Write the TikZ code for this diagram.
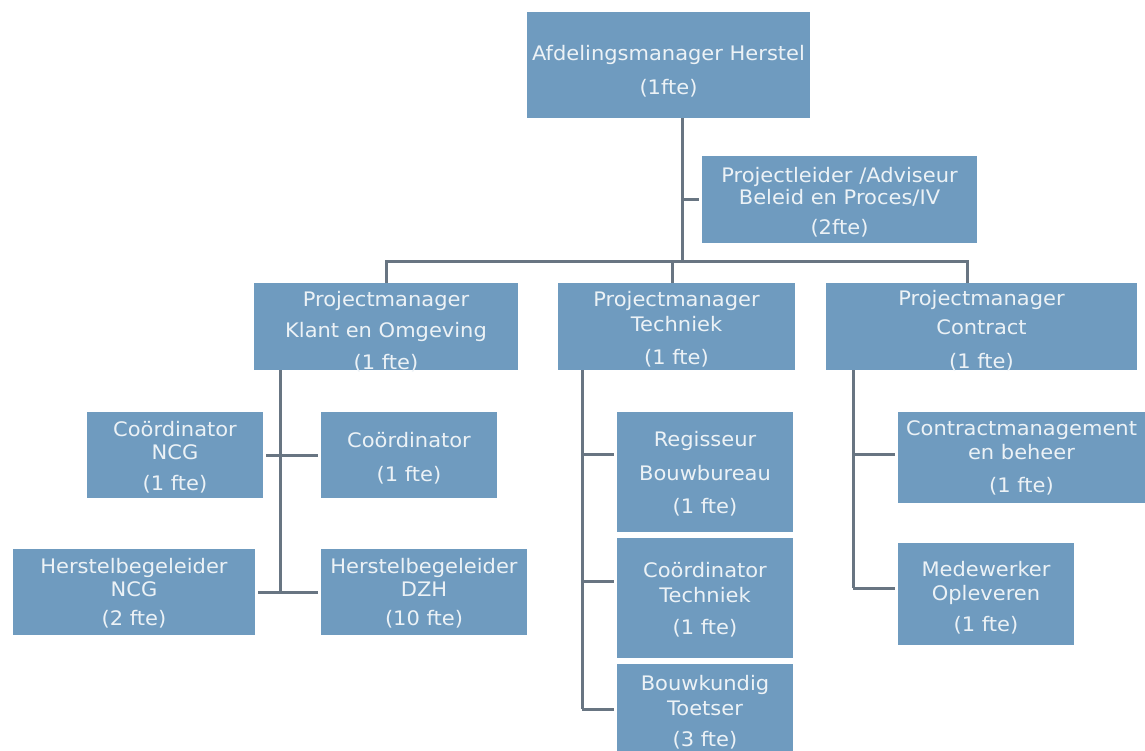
\documentclass[tikz,border=0pt]{standalone}
\usepackage{fontspec}
\setmainfont{DejaVu Sans}[FakeStretch=1.05]
\definecolor{boxfill}{RGB}{111,155,191}
\definecolor{boxtext}{RGB}{236,242,246}
\definecolor{wirecol}{RGB}{104,117,130}
\begin{document}
\begin{tikzpicture}[x=1pt,y=-1pt,
  box/.style={fill=boxfill, inner sep=0pt, anchor=center},
  txt/.style={text=boxtext, inner sep=0pt, align=center,
    font=\fontsize{20}{24}\selectfont, anchor=center},
  wire/.style={draw=wirecol, line width=3pt},
  gap/.style={shorten <=3pt}]
\useasboundingbox (0,0) rectangle (1145,751);
\fill[white] (0,0) rectangle (1145,751);
\clip (0,0) rectangle (1145,751);

% boxes
\node[box, minimum width=283pt, minimum height=106pt] (top) at (668.5,65) {};
\node[box, minimum width=275pt, minimum height=87pt] (pl) at (839.5,199.5) {};
\node[box, minimum width=264pt, minimum height=87pt] (pmk) at (386,326.5) {};
\node[box, minimum width=237pt, minimum height=87pt] (pmt) at (676.5,326.5) {};
\node[box, minimum width=311pt, minimum height=87pt] (pmc) at (981.5,326.5) {};
\node[box, minimum width=176pt, minimum height=86pt] (cncg) at (175,455) {};
\node[box, minimum width=176pt, minimum height=86pt] (coord) at (409,455) {};
\node[box, minimum width=242pt, minimum height=86pt] (hncg) at (134,592) {};
\node[box, minimum width=206pt, minimum height=86pt] (hdzh) at (424,592) {};
\node[box, minimum width=176pt, minimum height=120pt] (reg) at (705,472) {};
\node[box, minimum width=176pt, minimum height=120pt] (ctech) at (705,598) {};
\node[box, minimum width=176pt, minimum height=90pt] (bouw) at (705,709) {};
\node[box, minimum width=247pt, minimum height=91pt] (cmb) at (1021.5,457.5) {};
\node[box, minimum width=176pt, minimum height=102pt] (med) at (986,594) {};

% texts
\node[txt] (top-t) at ([yshift=-6pt]top.center) {Afdelingsmanager Herstel\\[10pt](1fte)};
\node[txt] (pl-t) at ([yshift=-3pt]pl.center) {Projectleider /Adviseur\\[-2pt]Beleid en Proces/IV\\[6pt](2fte)};
\node[txt] (pmk-t) at ([yshift=-5pt]pmk.center) {Projectmanager\\[7pt]Klant en Omgeving\\[8pt](1 fte)};
\node[txt] (pmt-t) at ([yshift=-2.5pt]pmt.center) {Projectmanager\\[1pt]Techniek\\[9pt](1 fte)};
\node[txt] (pmc-t) at ([yshift=-4pt]pmc.center) {Projectmanager\\[5pt]Contract\\[10pt](1 fte)};
\node[txt] (cncg-t) at ([yshift=-2pt]cncg.center) {Coördinator\\[-1pt]NCG\\[7pt](1 fte)};
\node[txt] (coord-t) at ([yshift=-3pt]coord.center) {Coördinator\\[10pt](1 fte)};
\node[txt] (hncg-t) at ([yshift=-1pt]hncg.center) {Herstelbegeleider\\[-1pt]NCG\\[5pt](2 fte)};
\node[txt] (hdzh-t) at ([yshift=-1pt]hdzh.center) {Herstelbegeleider\\[-1pt]DZH\\[5pt](10 fte)};
\node[txt] (reg-t) at ([yshift=-2pt]reg.center) {Regisseur\\[10pt]Bouwbureau\\[9pt](1 fte)};
\node[txt] (ctech-t) at ([yshift=-2pt]ctech.center) {Coördinator\\[1pt]Techniek\\[8pt](1 fte)};
\node[txt] (bouw-t) at ([yshift=-3pt]bouw.center) {Bouwkundig\\[1pt]Toetser\\[7pt](3 fte)};
\node[txt] (cmb-t) at (cmb.center) {Contractmanagement\\[0pt]en beheer\\[9pt](1 fte)};
\node[txt] (med-t) at ([yshift=-3.5pt]med.center) {Medewerker\\[0pt]Opleveren\\[7pt](1 fte)};

% junction coordinates
\coordinate (tr) at (682,262);
\coordinate (busL) at (386,262);
\coordinate (busM) at (672,262);
\coordinate (busR) at (967,262);
\coordinate (lk) at (280,592);
\coordinate (mt) at (582,709);
\coordinate (rc) at (853,588);

% connectors
\draw[wire] (top.south -| tr) -- (tr);
\draw[wire, gap] (pl.west) -- (pl.west -| tr);
\draw[wire] (pmk.north -| busL) -- (busL) -- (busR) -- (busR |- pmc.north);
\draw[wire] (busM) -- (busM |- pmt.north);

\draw[wire] (pmk.south -| lk) -- (lk);
\draw[wire, shorten <=3pt, shorten >=3pt] (cncg.east) -- (coord.west);
\draw[wire, shorten <=3pt, shorten >=3pt] (hncg.east) -- (hdzh.west);

\draw[wire] (pmt.south -| mt) -- (mt);
\draw[wire, gap] ([yshift=18pt]reg.west) -- ([yshift=18pt]reg.west -| mt);
\draw[wire, gap] ([yshift=17pt]ctech.west) -- ([yshift=17pt]ctech.west -| mt);
\draw[wire, gap] (bouw.west) -- (mt);

\draw[wire] (pmc.south -| rc) -- (rc);
\draw[wire, gap] ([yshift=3.5pt]cmb.west) -- ([yshift=3.5pt]cmb.west -| rc);
\draw[wire, gap] ([yshift=6pt]med.west) -- (rc);
\end{tikzpicture}
\end{document}
